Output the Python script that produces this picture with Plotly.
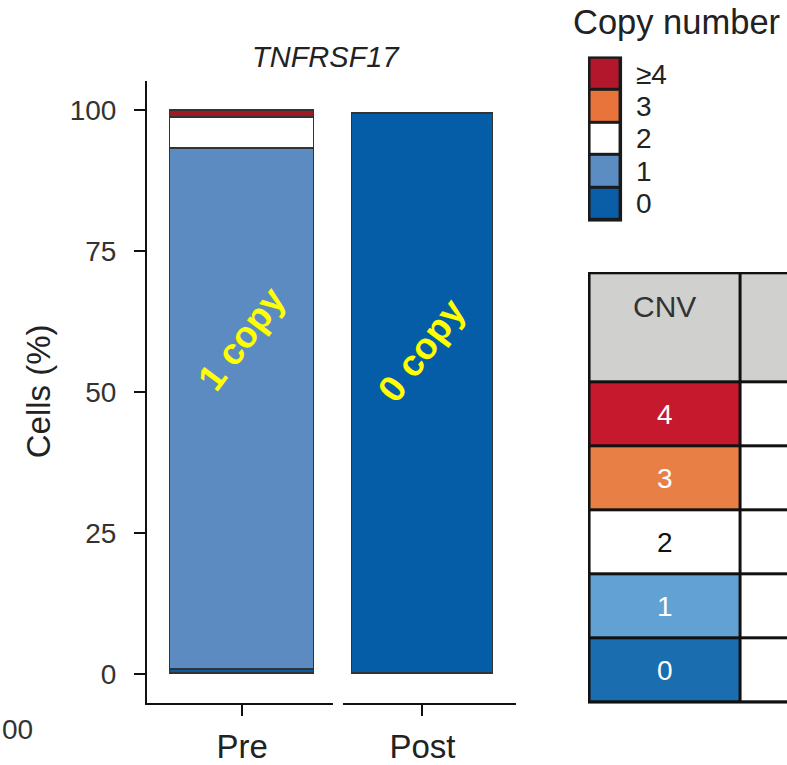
import plotly.graph_objects as go

# ---------------- data ----------------
groups = ["Pre", "Post"]
copy_states = ["0", "1", "2", "3", "≥4"]
pre_pct = [0.8, 92.3, 5.6, 0.0, 1.3]
post_pct = [99.4, 0.0, 0.0, 0.0, 0.0]
bar_colors = ["#045DA6", "#5B8BC1", "#FFFFFF", "#E8743B", "#9E1B25"]

y_ticks = [0, 25, 50, 75, 100]

legend_labels = ["0", "1", "2", "3", "≥4"]
legend_colors = ["#0A5EA8", "#5B8DC3", "#FFFFFF", "#E8743B", "#B3172C"]

table_cnv = ["0", "1", "2", "3", "4"]
table_colors = ["#1A6DAE", "#62A1D3", "#FFFFFF", "#E88046", "#C6192E"]
table_text_colors = ["#FFFFFF", "#FFFFFF", "#111111", "#FFFFFF", "#FFFFFF"]
table_header = "CNV"
header_color = "#D0D1CF"

bar_labels = ["1 copy", "0 copy"]

W, H = 787, 765
FONT = "Liberation Sans, Arial, sans-serif"
TXT = "#222222"


def px_x(p):
    return p / W


def px_y(p):
    return 1 - p / H


fig = go.Figure()

# ---------------- stacked bars ----------------
for i, state in enumerate(copy_states):
    if pre_pct[i] > 0:
        fig.add_trace(go.Bar(
            x=[groups[0]], y=[pre_pct[i]], xaxis="x", yaxis="y",
            marker=dict(color=bar_colors[i], line=dict(color="#333333", width=1.5)),
            width=0.77, showlegend=False, hoverinfo="skip"))
    if post_pct[i] > 0:
        fig.add_trace(go.Bar(
            x=[groups[1]], y=[post_pct[i]], xaxis="x2", yaxis="y",
            marker=dict(color=bar_colors[i], line=dict(color="#333333", width=1.5)),
            width=0.815, showlegend=False, hoverinfo="skip"))

# ---------------- legend swatches ----------------
n_leg = len(legend_colors)
leg_scale = []
for i, c in enumerate(legend_colors):
    leg_scale += [[i / n_leg, c], [(i + 1) / n_leg, c]]
fig.add_trace(go.Heatmap(
    z=[[i] for i in range(n_leg)], x=[-0.5, 0.5], y=list(range(n_leg + 1)),
    colorscale=leg_scale, zmin=-0.5, zmax=n_leg - 0.5, showscale=False,
    xgap=3, ygap=3, xaxis="x3", yaxis="y3", hoverinfo="skip"))

# ---------------- table ----------------
tab_pal = table_colors + [header_color]
n_tab = len(tab_pal)
tab_scale = []
for i, c in enumerate(tab_pal):
    tab_scale += [[i / n_tab, c], [(i + 1) / n_tab, c]]
white_idx = table_colors.index("#FFFFFF")
z_tab = [[i, white_idx] for i in range(len(table_cnv))] + [[n_tab - 1, n_tab - 1]]
y_edges = list(range(len(table_cnv) + 1)) + [len(table_cnv) + 1.7]
fig.add_trace(go.Heatmap(
    z=z_tab, x=[0, 1, 2], y=y_edges,
    colorscale=tab_scale, zmin=-0.5, zmax=n_tab - 0.5, showscale=False,
    xgap=3, ygap=3, xaxis="x4", yaxis="y4", hoverinfo="skip"))

# ---------------- layout ----------------
axis_common = dict(showline=True, linecolor="#111111", linewidth=2,
                   ticks="outside", ticklen=11, tickwidth=2, tickcolor="#111111",
                   showgrid=False, zeroline=False, fixedrange=True)

y_top, y_bot = 82, 713
y_lo, y_hi = -5.07, 105.24

fig.update_layout(
    width=W, height=H, margin=dict(l=0, r=0, t=0, b=0),
    paper_bgcolor="white", plot_bgcolor="white",
    barmode="stack", bargap=0, showlegend=False,
    font=dict(family=FONT, color=TXT, size=28),
    xaxis=dict(domain=[px_x(147), px_x(333)], range=[-0.511, 0.489], anchor="y",
               tickfont=dict(size=33, color=TXT), ticklabelstandoff=3, **axis_common),
    xaxis2=dict(domain=[px_x(343), px_x(516)], range=[-0.4595, 0.5405], anchor="y",
                tickfont=dict(size=33, color=TXT), ticklabelstandoff=3, **axis_common),
    yaxis=dict(domain=[px_y(y_bot), px_y(y_top)], range=[y_lo, y_hi], anchor="x",
               tickvals=y_ticks, tickfont=dict(size=28, color="#333333"),
               ticklabelstandoff=12, **axis_common),
    xaxis3=dict(domain=[px_x(588), px_x(720)], range=[-0.55, 3.71], visible=False,
                fixedrange=True, anchor="y3"),
    yaxis3=dict(domain=[px_y(225), px_y(57)], range=[-0.05, n_leg + 0.05], visible=False,
                fixedrange=True, anchor="x3"),
    xaxis4=dict(domain=[px_x(588), 1.0], range=[-0.01, 1.31], visible=False,
                fixedrange=True, anchor="y4"),
    yaxis4=dict(domain=[px_y(714), px_y(276)], range=[-0.02, y_edges[-1] + 0.02],
                visible=False, fixedrange=True, anchor="x4"),
)

shapes = [
    dict(type="rect", xref="x3", yref="y3", x0=-0.55, x1=0.55, y0=-0.05, y1=n_leg + 0.05,
         fillcolor="#1a1a1a", line=dict(width=0), layer="below"),
    dict(type="rect", xref="x4", yref="y4", x0=-0.01, x1=2.2, y0=-0.02, y1=y_edges[-1] + 0.02,
         fillcolor="#111111", line=dict(width=0), layer="below"),
]
fig.update_layout(shapes=shapes)

ann = []
# title
ann.append(dict(text="<i>TNFRSF17</i>", xref="paper", yref="paper", x=px_x(326), y=px_y(58),
                showarrow=False, font=dict(size=29, color=TXT), xanchor="center", yanchor="middle"))
# y axis title
ann.append(dict(text="Cells (%)", xref="paper", yref="paper", x=px_x(38), y=px_y(397),
                showarrow=False, textangle=-90, font=dict(size=33, color=TXT),
                xanchor="center", yanchor="middle"))
# cut-off neighbour label
ann.append(dict(text="00", xref="paper", yref="paper", x=0, y=px_y(740),
                showarrow=False, font=dict(size=28, color="#333333"),
                xanchor="left", yanchor="middle"))
# bar labels
ann.append(dict(text="<b>" + bar_labels[0] + "</b>", xref="x", yref="y", x=0, y=59.5,
                showarrow=False, textangle=-53, font=dict(size=37, color="#FFFF00"),
                xanchor="center", yanchor="middle"))
ann.append(dict(text="<b>" + bar_labels[1] + "</b>", xref="x2", yref="y", x=0, y=57.5,
                showarrow=False, textangle=-53, font=dict(size=37, color="#FFFF00"),
                xanchor="center", yanchor="middle"))
# legend title & labels
ann.append(dict(text="Copy number", xref="paper", yref="paper", x=px_x(571), y=px_y(22),
                showarrow=False, font=dict(size=34.5, color=TXT), xanchor="left", yanchor="middle"))
for i, lab in enumerate(legend_labels):
    ann.append(dict(text=lab, xref="x3", yref="y3", x=0.95, y=i + 0.5, showarrow=False,
                    font=dict(size=28, color=TXT), xanchor="left", yanchor="middle"))
# table texts
for i, lab in enumerate(table_cnv):
    ann.append(dict(text=lab, xref="x4", yref="y4", x=0.5, y=i + 0.5, showarrow=False,
                    font=dict(size=28, color=table_text_colors[i]),
                    xanchor="center", yanchor="middle"))
ann.append(dict(text=table_header, xref="x4", yref="y4", x=0.5, y=y_edges[-1] - 0.52,
                showarrow=False, font=dict(size=30, color="#333333"),
                xanchor="center", yanchor="middle"))
fig.update_layout(annotations=ann)

fig.write_html("out.html")
